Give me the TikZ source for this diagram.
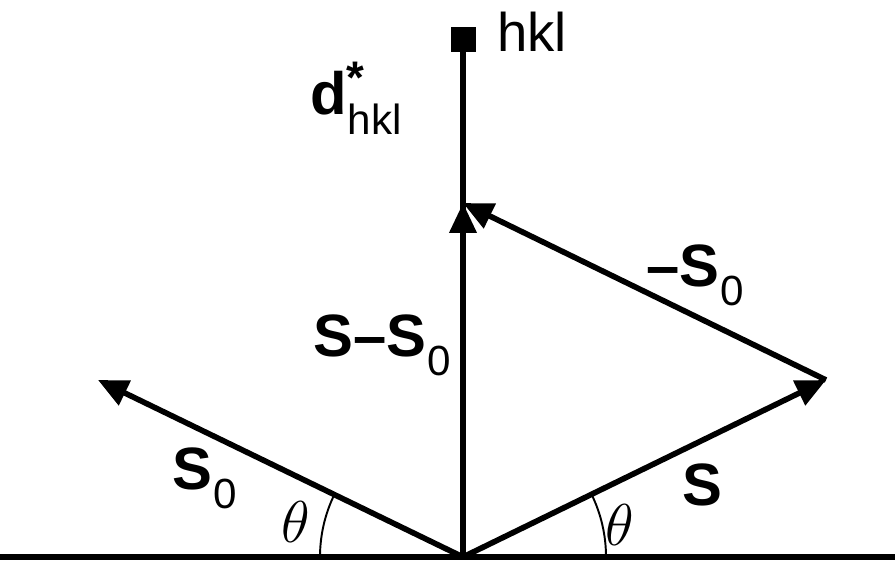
\documentclass[tikz,border=0pt]{standalone}
\usepackage{fontspec}
\setmainfont{Liberation Sans}
\usepackage{graphicx}
\usepackage{tikz}
\usetikzlibrary{arrows.meta, positioning, calc}
\newcommand{\lowidx}[1]{\kern0.5pt\raisebox{-0.32em}{\fontsize{24}{26}\selectfont\mdseries #1}}
\newcommand{\bigtheta}{\scalebox{1.35}{$\theta$}}

\begin{document}
\begin{tikzpicture}[
    vec/.style={line width=3.2pt, -{Triangle[length=17pt, width=15pt]}},
    lbl/.style={font=\fontsize{34}{40}\selectfont\bfseries, inner sep=0pt},
    anglbl/.style={font=\fontsize{25}{30}\selectfont, inner sep=0pt}
  ]
  \useasboundingbox (0,0) rectangle (17.9,11.26);
  \coordinate (O) at (9.26,0.12);
  \coordinate (P) at (16.52,3.66);
  \coordinate (Q) at (1.96,3.66);
  \coordinate (R) at (9.26,7.2);
  \coordinate (left) at (0,0.12);
  \coordinate (right) at (17.9,0.12);
  \node[fill=black, minimum size=0.5cm, inner sep=0pt] (hkl) at (9.26,10.46) {};
  % baseline
  \draw[line width=3pt] (left) -- (right);
  % vectors
  \draw[line width=3.2pt] (O) -- (hkl.center);
  \draw[vec] (O) -- (R);
  \draw[vec] (O) -- (P);
  \draw[vec] (P) -- (R);
  \draw[vec] (O) -- (Q);
  % angles
  \draw[line width=1.1pt] ($(O)+(2.86,0)$) arc (0:26:2.86);
  \draw[line width=1.1pt] ($(O)+(-2.86,0)$) arc (180:154:2.86);
  % labels
  \node[font=\fontsize{31}{36}\selectfont, inner sep=0pt, anchor=west] (hkltxt) at (9.94,10.62) {hkl};
  \node[lbl, anchor=west] (dlbl) at (6.2,9.3) {d\rlap{\raisebox{0.36em}{\fontsize{26}{28}\selectfont*}}\lowidx{hkl}};
  \node[lbl] (ssolbl) at (7.64,4.36) {S–S\lowidx{0}};
  \node[lbl] (msolbl) at (13.9,5.76) {–S\lowidx{0}};
  \node[lbl] (slbl) at (14.04,1.56) {S};
  \node[lbl] (solbl) at (4.1,1.7) {S\lowidx{0}};
  \node[anglbl] (thl) at (5.92,0.82) {\bigtheta};
  \node[anglbl] (thr) at (12.4,0.76) {\bigtheta};
\end{tikzpicture}
\end{document}
